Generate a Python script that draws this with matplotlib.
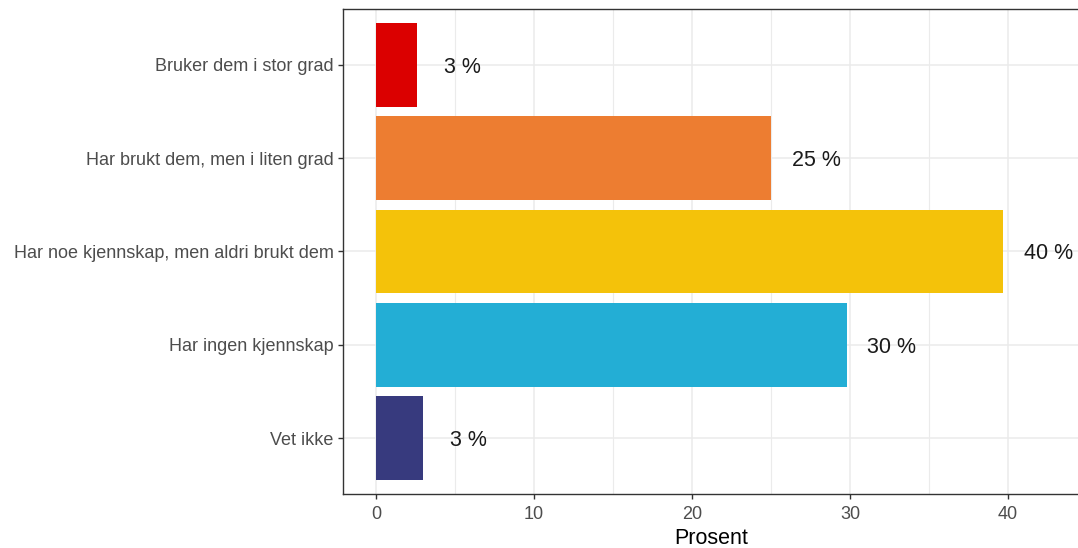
import matplotlib
matplotlib.use("Agg")
import matplotlib.pyplot as plt
from matplotlib.ticker import MultipleLocator

plt.rcParams['font.family'] = ['Liberation Sans', 'DejaVu Sans']

# Data (bottom to top)
categories = ["Vet ikke", "Har ingen kjennskap",
              "Har noe kjennskap, men aldri brukt dem",
              "Har brukt dem, men i liten grad",
              "Bruker dem i stor grad"]
values = [3.0, 29.8, 39.7, 25.0, 2.6]
colors = ["#373A7E", "#23AED5", "#F4C20A", "#ED7D31", "#DB0000"]
x_ticks = [0, 10, 20, 30, 40]
x_label = "Prosent"

W, H = 1078, 548
fig = plt.figure(figsize=(W / 100, H / 100), dpi=100)
left_px, right_px, top_px, bottom_px = 343, 1079, 9, 494
ax = fig.add_axes([left_px / W, 1 - bottom_px / H,
                   (right_px - left_px) / W, (bottom_px - top_px) / H])

pos = list(range(len(categories)))
ax.barh(pos, values, height=0.9, color=colors, zorder=3)

label_offset = 2.85
for p, v in zip(pos, values):
    ax.text(v + label_offset, p, f"{round(v)} %", ha="center", va="center_baseline",
            fontsize=15.5, color="#1A1A1A", zorder=4)

ax.set_xlim(-2.09, 44.5)
ax.set_ylim(-0.6, 4.6)
ax.set_yticks(pos)
ax.set_yticklabels(categories)
ax.set_xticks(x_ticks)
ax.xaxis.set_minor_locator(MultipleLocator(5))

ax.grid(True, which="major", color="#EBEBEB", linewidth=1.1, zorder=0)
ax.grid(True, which="minor", axis="x", color="#EBEBEB", linewidth=0.8, zorder=0)
ax.set_axisbelow(True)

for s in ax.spines.values():
    s.set_color("#333333")
    s.set_linewidth(1.0)

ax.tick_params(axis="both", which="major", length=3.6, width=1.0, color="#333333",
               labelsize=13, labelcolor="#4D4D4D", pad=3)
ax.tick_params(axis="x", which="major", pad=5)
ax.tick_params(axis="x", which="minor", length=0)

ax.set_xlabel(x_label, fontsize=15.5, color="#000000", labelpad=3.5)

fig.savefig("out.png", dpi=100)
